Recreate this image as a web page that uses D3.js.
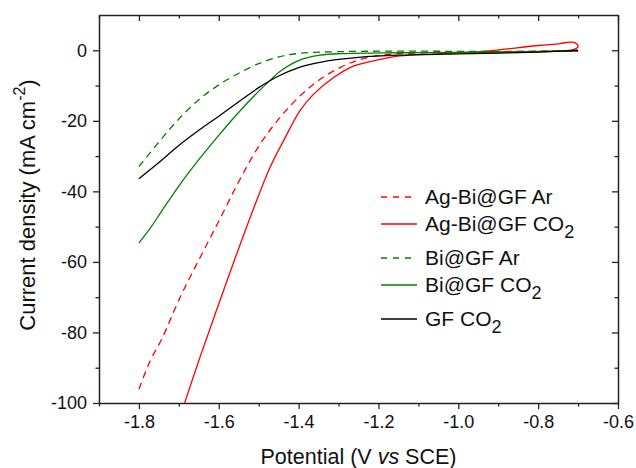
<!DOCTYPE html>
<html>
<head>
<meta charset="utf-8">
<script src="https://cdn.jsdelivr.net/npm/d3@7"></script>
<style>
  body { margin: 0; background: #fff; }
  svg text { font-family: Arial, "Liberation Sans", sans-serif; fill: #111; }
</style>
</head>
<body>
<div id="chart"></div>
<script>
// data (potential in V vs SCE, current density in mA cm-2)
var agBiArV = [-1.80, -1.772, -1.743, -1.697, -1.647, -1.597, -1.547, -1.497, -1.447, -1.397, -1.346, -1.296, -1.246, -1.179, -1.11, -1.0, -0.9, -0.8, -0.7];
var agBiArJ = [-96.1, -88.1, -81.9, -70.1, -58.8, -47.8, -36.6, -26.7, -19.1, -13.0, -8.2, -4.9, -2.6, -1.2, -0.8, -0.6, -0.4, -0.3, -0.2];

// CO2 scan starts at the right end, makes a small loop, then runs negative
var agBiCo2V = [-1.0, -0.85, -0.75, -0.712, -0.70, -0.703, -0.713, -0.73, -0.745, -0.8, -0.946, -1.05, -1.146, -1.196, -1.263, -1.313, -1.363, -1.397, -1.438, -1.472, -1.522, -1.564, -1.605, -1.647, -1.69];
var agBiCo2J = [-0.6, -0.4, -0.2, 0.2, 1.0, 1.8, 2.3, 2.2, 1.9, 1.35, -0.4, -1.0, -1.6, -2.6, -4.5, -7.8, -12.5, -17.2, -25.7, -33.3, -47.6, -60.5, -73.5, -87.0, -101.5];

var biArV = [-1.80, -1.75, -1.70, -1.65, -1.60, -1.55, -1.50, -1.45, -1.40, -1.30, -1.15, -1.0, -0.85, -0.7];
var biArJ = [-33.0, -26.0, -19.5, -14.0, -9.8, -6.5, -3.8, -1.9, -0.9, -0.4, -0.25, -0.3, -0.3, -0.2];

var biCo2V = [-1.80, -1.772, -1.743, -1.697, -1.647, -1.597, -1.547, -1.497, -1.472, -1.447, -1.397, -1.346, -1.296, -1.146, -1.0, -0.9, -0.8, -0.7];
var biCo2J = [-54.6, -50.5, -45.6, -38.0, -30.6, -23.7, -17.2, -11.3, -8.6, -6.0, -2.8, -1.4, -0.95, -0.7, -0.6, -0.5, -0.4, -0.2];

var gfCo2V = [-1.80, -1.75, -1.70, -1.65, -1.60, -1.55, -1.50, -1.45, -1.40, -1.35, -1.30, -1.25, -1.15, -1.0, -0.9, -0.8, -0.7];
var gfCo2J = [-36.4, -31.8, -27.0, -22.7, -18.7, -14.6, -10.6, -7.3, -4.9, -3.5, -2.6, -2.0, -1.4, -1.0, -0.8, -0.5, 0.0];

var xMajor = [-1.8, -1.6, -1.4, -1.2, -1.0, -0.8, -0.6];
var xMinor = [-1.9, -1.7, -1.5, -1.3, -1.1, -0.9, -0.7];
var yMajor = [-100, -80, -60, -40, -20, 0];
var yMinor = [-90, -70, -50, -30, -10];

var seriesNames = ["Ag-Bi@GF Ar", "Ag-Bi@GF CO", "Bi@GF Ar", "Bi@GF CO", "GF CO"];
var seriesSubs = ["", "2", "", "2", "2"];

var svgWidth = 636;
var svgHeight = 468;
var margin = { top: 15, right: 18, bottom: 65, left: 99 };
var width = svgWidth - margin.left - margin.right;
var height = svgHeight - margin.top - margin.bottom;

var svg = d3.select("#chart")
  .append("svg")
  .attr("width", svgWidth)
  .attr("height", svgHeight);

var chartGroup = svg.append("g")
  .attr("transform", `translate(${margin.left}, ${margin.top})`);

var xScale = d3.scaleLinear().domain([-1.9, -0.6]).range([0, width]);
var yScale = d3.scaleLinear().domain([-100, 10]).range([height, 0]);

svg.append("defs").append("clipPath").attr("id", "plotclip")
  .append("rect").attr("width", width).attr("height", height);

// curves
var series = [
  { v: agBiArV, j: agBiArJ, color: "#ff0000", dash: "7,5" },
  { v: agBiCo2V, j: agBiCo2J, color: "#ff0000", dash: null },
  { v: biArV, j: biArJ, color: "#008000", dash: "7,5" },
  { v: biCo2V, j: biCo2J, color: "#008000", dash: null },
  { v: gfCo2V, j: gfCo2J, color: "#000000", dash: null }
];

var line = d3.line()
  .x(d => xScale(d[0]))
  .y(d => yScale(d[1]))
  .curve(d3.curveCatmullRom.alpha(0.5));

var curves = chartGroup.append("g").attr("clip-path", "url(#plotclip)");
series.forEach(function(s) {
  var pts = s.v.map((v, i) => [v, s.j[i]]);
  curves.append("path")
    .attr("d", line(pts))
    .attr("fill", "none")
    .attr("stroke", s.color)
    .attr("stroke-width", 1.3)
    .attr("stroke-dasharray", s.dash);
});

// axes (ticks out on bottom/left, in on top/right)
var fmtX = d => d.toFixed(1);
var fmtY = d => String(d);

function styleAxis(g) {
  g.selectAll("path.domain").attr("stroke", "#222").attr("stroke-width", 1.5);
  g.selectAll(".tick line").attr("stroke", "#222").attr("stroke-width", 1.3);
  g.selectAll("text").attr("font-size", 18).attr("fill", "#111")
    .attr("font-family", "Arial, 'Liberation Sans', sans-serif");
}

chartGroup.append("g")
  .attr("transform", `translate(0, ${height})`)
  .call(d3.axisBottom(xScale).tickValues(xMajor).tickSize(6).tickSizeOuter(0).tickPadding(6).tickFormat(fmtX))
  .call(styleAxis);
chartGroup.append("g")
  .attr("transform", `translate(0, ${height})`)
  .call(d3.axisBottom(xScale).tickValues(xMinor).tickSize(3.5).tickFormat(""))
  .call(styleAxis)
  .select(".domain").remove();

chartGroup.append("g")
  .call(d3.axisTop(xScale).tickValues(xMajor).tickSize(-6).tickSizeOuter(0).tickFormat(""))
  .call(styleAxis);
chartGroup.append("g")
  .call(d3.axisTop(xScale).tickValues(xMinor).tickSize(-3.5).tickFormat(""))
  .call(styleAxis)
  .select(".domain").remove();

chartGroup.append("g")
  .call(d3.axisLeft(yScale).tickValues(yMajor).tickSize(6).tickSizeOuter(0).tickPadding(6).tickFormat(fmtY))
  .call(styleAxis);
chartGroup.append("g")
  .call(d3.axisLeft(yScale).tickValues(yMinor).tickSize(3.5).tickFormat(""))
  .call(styleAxis)
  .select(".domain").remove();

chartGroup.append("g")
  .attr("transform", `translate(${width}, 0)`)
  .call(d3.axisRight(yScale).tickValues(yMajor).tickSize(-6).tickSizeOuter(0).tickFormat(""))
  .call(styleAxis);
chartGroup.append("g")
  .attr("transform", `translate(${width}, 0)`)
  .call(d3.axisRight(yScale).tickValues(yMinor).tickSize(-3.5).tickFormat(""))
  .call(styleAxis)
  .select(".domain").remove();

// axis titles
var xTitle = svg.append("text")
  .attr("x", margin.left + width / 2)
  .attr("y", 464)
  .attr("text-anchor", "middle")
  .attr("font-size", 21.5);
xTitle.append("tspan").text("Potential (V ");
xTitle.append("tspan").attr("font-style", "italic").text("vs");
xTitle.append("tspan").text(" SCE)");

var yTitle = svg.append("text")
  .attr("transform", `translate(35, 205) rotate(-90)`)
  .attr("text-anchor", "middle")
  .attr("font-size", 22);
yTitle.append("tspan").text("Current density (mA cm");
yTitle.append("tspan").attr("font-size", 16).attr("dy", -10).text("-2");
yTitle.append("tspan").attr("dy", 10).text(")");

// legend
var legend = svg.append("g");
var ly = 197;
series.forEach(function(s, i) {
  legend.append("line")
    .attr("x1", 381).attr("x2", 417)
    .attr("y1", ly).attr("y2", ly)
    .attr("stroke", s.color)
    .attr("stroke-width", 1.3)
    .attr("stroke-dasharray", s.dash ? "6,6" : null);
  var t = legend.append("text")
    .attr("x", 425)
    .attr("y", ly + 7)
    .attr("font-size", 21);
  t.append("tspan").text(seriesNames[i]);
  if (seriesSubs[i]) {
    t.append("tspan").attr("font-size", 18).attr("dy", 7).text(seriesSubs[i]);
  }
  ly += seriesSubs[i] ? 34 : 27;
});
</script>
</body>
</html>
